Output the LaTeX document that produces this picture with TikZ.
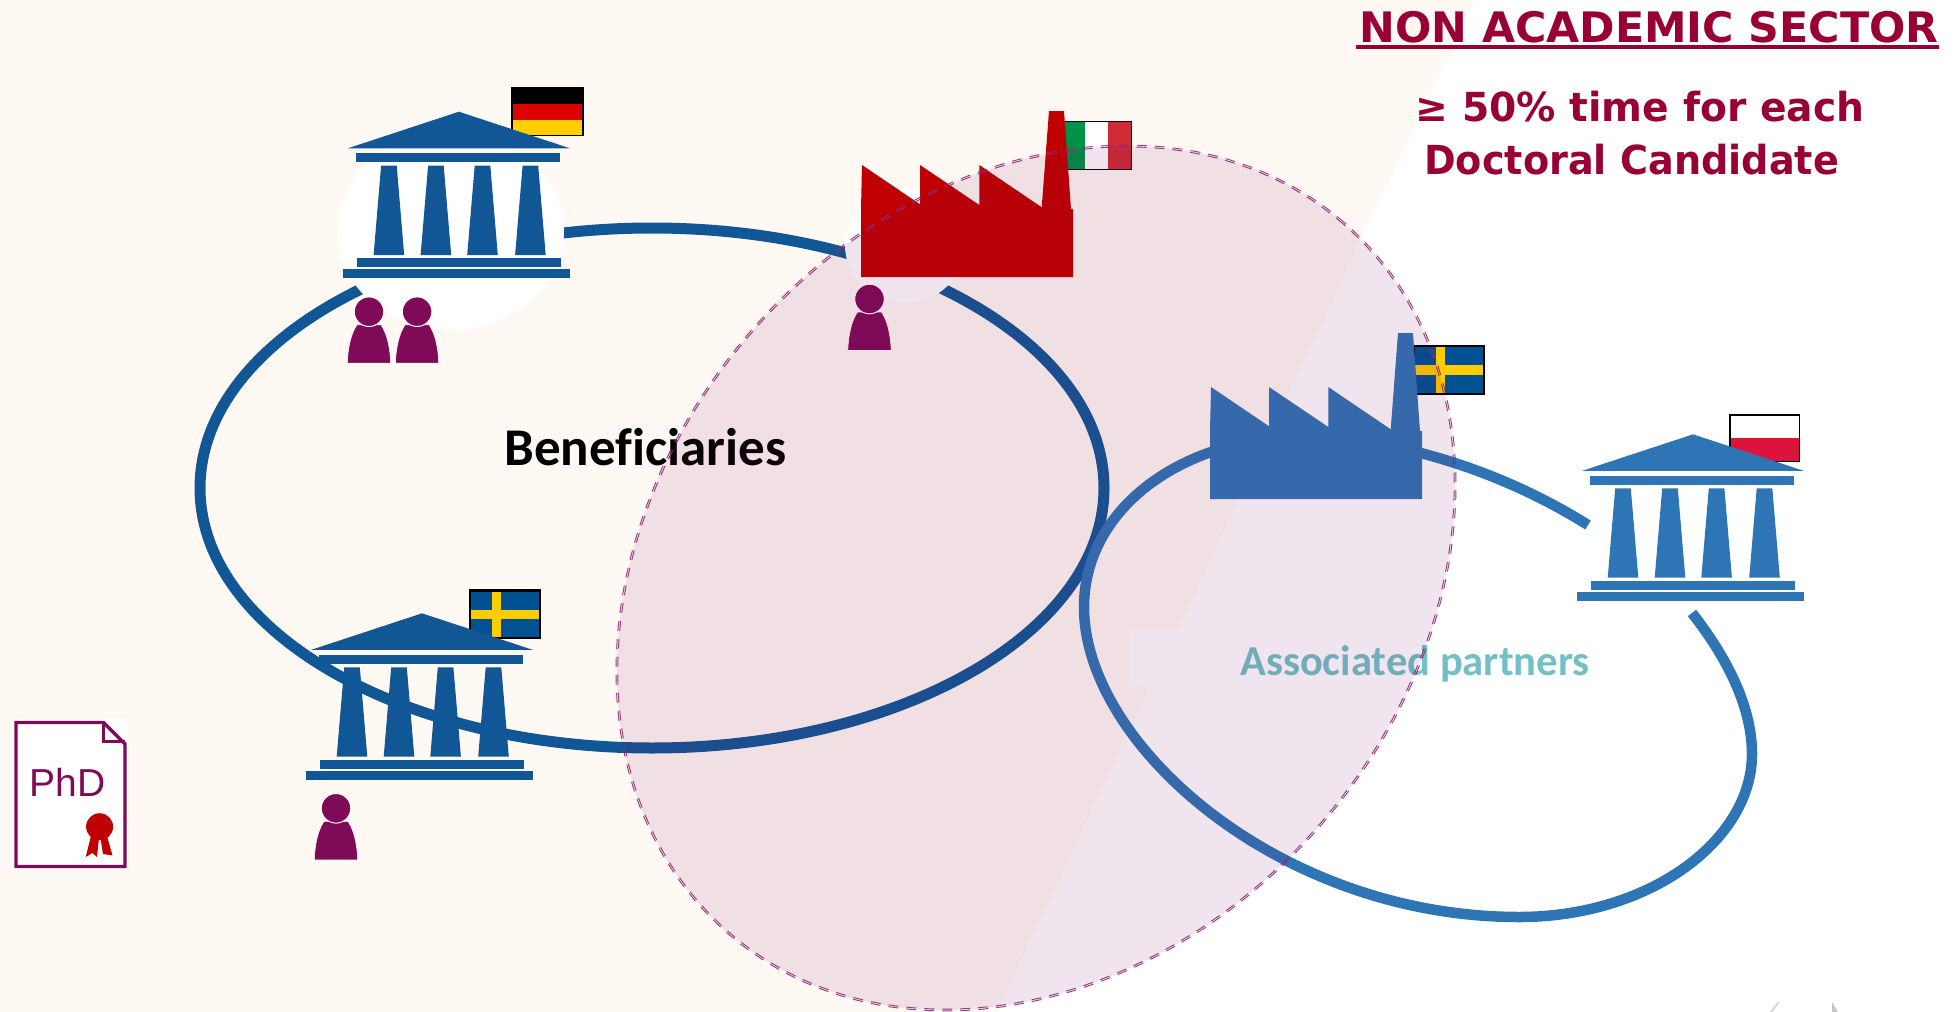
\documentclass[tikz,border=0pt]{standalone}
\usepackage{fontspec}
\setmainfont{DejaVu Sans}
\newfontfamily\carl[Ligatures=NoCommon]{Carlito}
\newfontfamily\libs{Liberation Sans}
\definecolor{creambg}{HTML}{FFF8F3}
\definecolor{darkblue}{HTML}{115796}
\definecolor{midblue}{HTML}{2E75B6}
\definecolor{persona}{HTML}{7F0A57}
\definecolor{titlered}{HTML}{990033}
\definecolor{factred}{HTML}{C00000}
\definecolor{tealtxt}{HTML}{72C0C6}
\definecolor{ovl}{HTML}{73055A}
\definecolor{dashc}{HTML}{8E2A78}
\definecolor{swblue}{HTML}{005293}
\definecolor{swyel}{HTML}{FFCC00}
\definecolor{degold}{HTML}{FFCE00}
\definecolor{dered}{HTML}{DD0000}
\definecolor{itgreen}{HTML}{009246}
\definecolor{itred}{HTML}{CE2B37}
\definecolor{plred}{HTML}{DC143C}
\tikzset{
  ringline/.style={line width=#1,line cap=butt},
  flagedge/.style={draw=black,line width=2.4pt},
  ovldash/.style={draw=dashc,line width=.95pt,draw opacity=.9},
  pics/bldg/.style={code={
    \fill[#1] (116,0) -- (227,36.6) -- (5,36.6) -- cycle;
    \fill[#1] (13,41.3) rectangle (217,50.3);
    \foreach \cx in {46,93,139.6,187.5}{
      \fill[#1] ({\cx-7.8},54) -- ({\cx+7.8},54) -- ({\cx+15.3},143.3) -- ({\cx-15.3},143.3) -- cycle;}
    \fill[#1] (14,146.3) rectangle (218,155.3);
    \fill[#1] (0,157.3) rectangle (227.3,166.3);
  }},
  pics/factory/.style={code={
    \fill[#1] (0,98) -- (1,54) -- (59,93.3) -- (59,54) -- (118.3,94) -- (118.3,54) -- (180.7,96.3)
      -- (188,0) -- (203,0) -- (210,98) -- (212,98) -- (212,166) -- (0,166) -- cycle;
  }},
  pics/persona/.style={code={
    \fill[persona,draw=white,line width=.6pt] (-21.7,51.5) .. controls (-21,35) and (-18,22) .. (-12,13)
       -- (12,13) .. controls (18,22) and (21,35) .. (21.7,51.5) -- cycle;
    \fill[persona,draw=white,line width=1pt] (0,0) circle (14.8pt);
  }},
  pics/flagse/.style={code={
    \fill[swblue] (0,0) rectangle (70,47.5);
    \fill[swyel] (22.3,0) rectangle (31.3,47.5);
    \fill[swyel] (0,19) rectangle (70,28.3);
    \draw[flagedge] (0,0) rectangle (70,47.5);
  }}
}
\begin{document}
\begin{tikzpicture}[x=1pt,y=-1pt]
\useasboundingbox (0,0) rectangle (1955,1012);
% background
\fill[white] (0,0) rectangle (1955,1012);
\fill[creambg] (0,0) -- (1475,0) -- (1379,200) -- (1323,320) -- (1177,630) -- (1128.3,630)
  -- (1128.3,687.7) -- (1149.3,687.7) -- (1000,1005) -- (997,1012) -- (0,1012) -- cycle;
% faint corner marks
\fill[black!18] (1778,1002) -- (1779,1003) -- (1772,1012) -- (1770,1012) -- cycle;
\fill[black!22] (1832,1002) -- (1838,1012) -- (1832,1012) -- cycle;
% rings
\draw[ringline=11pt,darkblue] (652,488) ellipse [x radius=452pt,y radius=260pt];
\draw[ringline=10.5pt,midblue] (1588,525) .. controls (1500,470) and (1400,440) .. (1310,436)
  .. controls (1180,436) and (1084,510) .. (1084,607)
  .. controls (1084,745) and (1280,917) .. (1519,917)
  .. controls (1650,917) and (1752,840) .. (1752,754)
  .. controls (1752,705) and (1725,655) .. (1692,613);
% white blobs
\fill[white] (450.5,231) ellipse [x radius=113.5pt,y radius=99pt];
\fill[white] (905,245) ellipse [x radius=60pt,y radius=58pt];
% flags
\fill[black] (511,87) rectangle (583.6,136.3);
\fill[dered] (512.5,104) rectangle (582.2,119.5);
\fill[degold] (512.5,119.5) rectangle (582.2,134.8);
\fill[black] (1060,120.7) rectangle (1132.4,170.3);
\fill[itgreen] (1061.5,122.3) rectangle (1085,168.8);
\fill[white] (1085,122.3) rectangle (1108,168.8);
\fill[itred] (1108,122.3) rectangle (1131,168.8);
\pic (flagsa) at (1413.7,346.2) {flagse};
\pic (flagsb) at (469.8,590.5) {flagse};
\fill[black] (1729,414) rectangle (1800.4,462.3);
\fill[white] (1730.5,415.5) rectangle (1799,437.7);
\fill[plred] (1730.5,437.7) rectangle (1799,460.8);
% buildings
\pic (bg) at (342.9,111.7) {bldg=darkblue};
\pic (bs) at (306,613.3) {bldg=darkblue};
\pic (bp) at (1577,434.3) {bldg=midblue};
% factories
\pic (fi) at (861,111) {factory=factred};
\pic (fs) at (1210,333) {factory=midblue};
% persons
\pic (p1) at (369,311.7) {persona};
\pic (p2) at (417.1,311.7) {persona};
\pic (p3) at (869.5,299) {persona};
\pic (p4) at (336,808.3) {persona};
% PhD document
\fill[white] (14,719) rectangle (128,869);
\draw[persona,line width=3.4pt] (16,722.5) -- (103.6,722.5) -- (125,744) -- (125,866.5) -- (16,866.5) -- cycle;
\draw[persona,line width=3pt] (103.6,722.5) -- (103.6,741.7) -- (125,741.7);
\node[anchor=base,inner sep=0pt,text=persona,font=\libs\fontsize{39}{42}\selectfont] (phd) at (67.5,796) {PhD};
\fill[factred] (91,836) -- (85.7,857) -- (92.5,853) -- (97,857) -- (99,838) -- cycle;
\fill[factred] (100.5,838) -- (103,854) -- (112.5,855.5) -- (107,836) -- cycle;
\fill[factred] (99.6,826.7) circle (13.5pt);
% labels
\node[anchor=base,inner sep=0pt,font=\carl\bfseries\fontsize{53}{58}\selectfont] (ben) at (645.5,465) {Beneficiaries};
\node[anchor=base west,inner sep=0pt,text=tealtxt,font=\carl\bfseries\fontsize{42.6}{48}\selectfont] (asc) at (1240,675) {Associated partners};
\node[anchor=base,inner sep=0pt,text=titlered,font=\bfseries\fontsize{42}{48}\selectfont] (t1) at (1649,42.3) {\scalebox{1.018}[1]{NON ACADEMIC SECTOR}};
\fill[titlered] (1356.4,45) rectangle (1939,49.3);
\node[anchor=base,inner sep=0pt,text=titlered,font=\bfseries\fontsize{40}{48}\selectfont] (t2) at (1640,121.7) {\scalebox{0.98}[1]{≥ 50\% time for each}};
\node[anchor=base,inner sep=0pt,text=titlered,font=\bfseries\fontsize{40}{48}\selectfont] (t3) at (1631.6,174) {\scalebox{0.955}[1]{Doctoral Candidate}};
% overlay ellipse
\fill[ovl,fill opacity=.1,rotate around={49:(1036,578)}] (1036,578) ellipse [x radius=469.6pt,y radius=376.4pt];
\draw[ovldash,dash pattern=on 10.02pt off 8.02pt,rotate around={49:(1036,578)}]
  (1036,578) ellipse [x radius=470.5pt,y radius=377.3pt];
\draw[ovldash,dash pattern=on 9.98pt off 7.98pt,rotate around={49:(1036,578)}]
  (1036,578) ellipse [x radius=468.7pt,y radius=375.5pt];
\end{tikzpicture}
\end{document}
